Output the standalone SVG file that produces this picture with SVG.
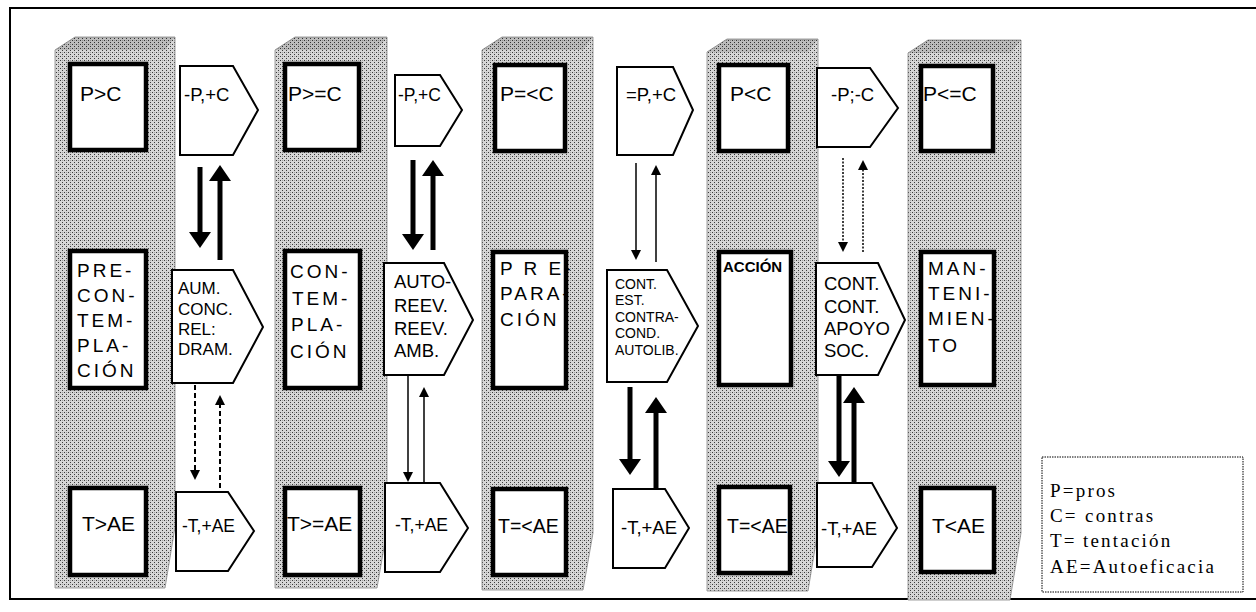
<svg xmlns="http://www.w3.org/2000/svg" width="1256" height="612" viewBox="0 0 1256 612">
<defs>
<pattern id="stip" width="4" height="4" patternUnits="userSpaceOnUse">
<rect width="4" height="4" fill="#d6d6d6"/>
<rect x="0" y="0" width="1" height="1" fill="#3a3a3a"/>
<rect x="2" y="2" width="1" height="1" fill="#3a3a3a"/>
<rect x="2" y="0" width="1" height="1" fill="#a0a0a0"/>
</pattern>
<marker id="hThick" viewBox="0 -11 16 22" markerWidth="16" markerHeight="22" refX="0" refY="0" orient="auto" markerUnits="userSpaceOnUse"><path d="M0,-11 L16,0 L0,11 Z" fill="#000"/></marker>
<marker id="hThin" viewBox="0 -5 10 10" markerWidth="10" markerHeight="10" refX="0" refY="0" orient="auto" markerUnits="userSpaceOnUse"><path d="M0,-5 L10,0 L0,5 Z" fill="#000"/></marker>
</defs>
<style>
.col{fill:url(#stip);stroke:#888;stroke-width:0.8}
.topf{fill:#000;fill-opacity:0.12}
.stage{fill:#fff;stroke:#000;stroke-width:4.5}
.pent{fill:#fff;stroke:#000;stroke-width:2;stroke-linejoin:miter}
.t{font-family:"Liberation Sans",Arial,sans-serif;fill:#000}
.s21{font-size:21px}
.s19{font-size:19.5px}
.s18{font-size:18.5px}
.s17{font-size:17.5px}
.s16{font-size:17px}
.s14{font-size:14px}
.sp{font-size:19px;letter-spacing:3px}
.b{font-weight:bold;font-size:15px}
.leg{font-family:"Liberation Serif","Times New Roman",serif;font-size:19px;letter-spacing:2.2px;fill:#000}
.thick{stroke:#000;stroke-width:5;fill:none}
.thin{stroke:#000;stroke-width:1.5;fill:none}
.dash{stroke:#000;stroke-width:2;fill:none;stroke-dasharray:5 3}
.dot{stroke:#000;stroke-width:1.5;fill:none;stroke-dasharray:2 1.5}
</style>
<rect x="10" y="8" width="1260" height="591" fill="#fff" stroke="#000" stroke-width="2"/>

<g id="columns">
<polygon class="col" points="55,50 75,37 175,37 175,527 165,588 55,588"/>
<polygon class="topf" points="55,50 75,37 175,37 165,50"/>
<polygon class="col" points="275,50 295,37 387,37 387,530 377,588 275,588"/>
<polygon class="topf" points="275,50 295,37 387,37 377,50"/>
<polygon class="col" points="482,50 502,37 593,37 593,533 583,590 482,590"/>
<polygon class="topf" points="482,50 502,37 593,37 583,50"/>
<polygon class="col" points="707,52 727,39 818,39 818,530 808,591 707,591"/>
<polygon class="topf" points="707,52 727,39 818,39 808,52"/>
<polygon class="col" points="908,53 928,40 1021,40 1021,533 1010,600 908,600"/>
<polygon class="topf" points="908,53 928,40 1021,40 1011,53"/>
</g>

<g id="connectors">
<line class="thick" x1="200" y1="167" x2="200" y2="232" marker-end="url(#hThick)"/>
<line class="thick" x1="220" y1="260" x2="220" y2="181" marker-end="url(#hThick)"/>
<line class="dash" x1="195" y1="385" x2="195" y2="470" marker-end="url(#hThin)"/>
<line class="dash" x1="220" y1="488" x2="220" y2="405" marker-end="url(#hThin)"/>
<line class="thick" x1="413" y1="160" x2="413" y2="234" marker-end="url(#hThick)"/>
<line class="thick" x1="433" y1="250" x2="433" y2="176" marker-end="url(#hThick)"/>
<line class="thin" x1="408" y1="376" x2="408" y2="472" marker-end="url(#hThin)"/>
<line class="thin" x1="424" y1="483" x2="424" y2="397" marker-end="url(#hThin)"/>
<line class="thin" x1="636" y1="163" x2="636" y2="250" marker-end="url(#hThin)"/>
<line class="thin" x1="656" y1="262" x2="656" y2="175" marker-end="url(#hThin)"/>
<line class="thick" x1="630" y1="387" x2="630" y2="459" marker-end="url(#hThick)"/>
<line class="thick" x1="656" y1="489" x2="656" y2="413" marker-end="url(#hThick)"/>
<line class="dot" x1="843" y1="158" x2="843" y2="242" marker-end="url(#hThin)"/>
<line class="dot" x1="863" y1="252" x2="863" y2="170" marker-end="url(#hThin)"/>
<line class="thick" x1="839" y1="376" x2="839" y2="461" marker-end="url(#hThick)"/>
<line class="thick" x1="854" y1="483" x2="854" y2="403" marker-end="url(#hThick)"/>
</g>

<g id="stage1">
<rect class="stage" x="70" y="64" width="76" height="86"/>
<text class="t s21" x="80" y="101">P&gt;C</text>
<rect class="stage" x="70" y="251" width="76" height="137"/>
<text class="t sp" x="77" y="277">PRE-</text>
<text class="t sp" x="77" y="302">CON-</text>
<text class="t sp" x="77" y="327">TEM-</text>
<text class="t sp" x="77" y="352">PLA-</text>
<text class="t sp" x="77" y="377" letter-spacing="2">CIÓN</text>
<rect class="stage" x="70" y="488" width="76" height="87"/>
<text class="t s21" x="82" y="531">T&gt;AE</text>
</g>

<g id="stage2">
<rect class="stage" x="285" y="64" width="74" height="86"/>
<text class="t s21" x="288" y="101">P&gt;=C</text>
<rect class="stage" x="285" y="251" width="75" height="137"/>
<text class="t sp" x="290" y="278">CON-</text>
<text class="t sp" x="292" y="305">TEM-</text>
<text class="t sp" x="291" y="331">PLA-</text>
<text class="t sp" x="290" y="358" letter-spacing="2">CIÓN</text>
<rect class="stage" x="285" y="488" width="75" height="87"/>
<text class="t s21" x="287" y="531">T&gt;=AE</text>
</g>

<g id="stage3">
<rect class="stage" x="495" y="65" width="70" height="86"/>
<text class="t s21" x="500" y="101">P=&lt;C</text>
<rect class="stage" x="493" y="252" width="73" height="136"/>
<text class="t sp" x="500" y="275" letter-spacing="1.8">P R E-</text>
<text class="t sp" x="500" y="300" letter-spacing="1.5">PARA-</text>
<text class="t sp" x="500" y="326" letter-spacing="1.8">CIÓN</text>
<rect class="stage" x="493" y="489" width="73" height="86"/>
<text class="t s19" x="498" y="533">T=&lt;AE</text>
</g>

<g id="stage4">
<rect class="stage" x="719" y="65" width="69" height="86"/>
<text class="t s21" x="730" y="101">P&lt;C</text>
<rect class="stage" x="719" y="252" width="72" height="133"/>
<text class="t b" x="723" y="272">ACCIÓN</text>
<rect class="stage" x="719" y="487" width="71" height="86"/>
<text class="t s19" x="727" y="533">T=&lt;AE</text>
</g>

<g id="stage5">
<rect class="stage" x="921" y="66" width="72" height="85"/>
<text class="t s21" x="923" y="101">P&lt;=C</text>
<rect class="stage" x="921" y="252" width="73" height="133"/>
<text class="t sp" x="928" y="275">MAN-</text>
<text class="t sp" x="928" y="300" letter-spacing="2.2">TENI-</text>
<text class="t sp" x="928" y="325" letter-spacing="1.5">MIEN-</text>
<text class="t sp" x="928" y="352" letter-spacing="1.5">TO</text>
<rect class="stage" x="921" y="488" width="73" height="84"/>
<text class="t s21" x="932" y="533">T&lt;AE</text>
</g>

<g id="process1">
<polygon class="pent" points="180,66 233,66 258,110 233,155 180,155"/>
<text class="t s18" x="184" y="101">-P,+C</text>
<polygon class="pent" points="172,270 233,270 263,327 233,383 172,383"/>
<text class="t s16" x="178" y="294">AUM.</text>
<text class="t s16" x="178" y="315">CONC.</text>
<text class="t s16" x="178" y="335">REL:</text>
<text class="t s16" x="178" y="355">DRAM.</text>
<polygon class="pent" points="176,492 228,492 254,531 228,571 176,571"/>
<text class="t s17" x="182" y="532">-T,+AE</text>
</g>

<g id="process2">
<polygon class="pent" points="395,75 440,75 462,110 440,146 395,146"/>
<text class="t s17" x="398" y="101">-P,+C</text>
<polygon class="pent" points="384,263 444,263 473,320 444,375 384,375"/>
<text class="t s18" x="394" y="288">AUTO-</text>
<text class="t s18" x="394" y="312">REEV.</text>
<text class="t s18" x="394" y="335">REEV.</text>
<text class="t s18" x="394" y="357">AMB.</text>
<polygon class="pent" points="385,483 440,483 468,528 440,572 385,572"/>
<text class="t s17" x="395" y="531">-T,+AE</text>
</g>

<g id="process3">
<polygon class="pent" points="617,67 673,67 693,110 673,155 617,155"/>
<text class="t s18" x="626" y="101">=P,+C</text>
<polygon class="pent" points="607,270 667,270 698,326 667,382 607,382"/>
<text class="t s14" x="615" y="289">CONT.</text>
<text class="t s14" x="615" y="305">EST.</text>
<text class="t s14" x="615" y="321.5">CONTRA-</text>
<text class="t s14" x="615" y="338">COND.</text>
<text class="t s14" x="615" y="355">AUTOLIB.</text>
<polygon class="pent" points="613,489 665,489 689,528 665,568 613,568"/>
<text class="t s18" x="621" y="534">-T,+AE</text>
</g>

<g id="process4">
<polygon class="pent" points="817,68 870,68 898,108 870,147 817,147"/>
<text class="t s18" x="831" y="101">-P;-C</text>
<polygon class="pent" points="816,263 878,263 905,320 878,375 816,375"/>
<text class="t s18" x="824" y="290">CONT.</text>
<text class="t s18" x="824" y="313">CONT.</text>
<text class="t s18" x="824" y="335">APOYO</text>
<text class="t s18" x="824" y="357">SOC.</text>
<polygon class="pent" points="817,483 872,483 897,528 872,567 817,567"/>
<text class="t s18" x="821" y="535">-T,+AE</text>
</g>

<g id="legend">
<rect x="1042" y="457" width="201" height="135" fill="#fff" stroke="#000" stroke-width="1" stroke-dasharray="1.5 1"/>
<text class="leg" x="1050" y="497">P=pros</text>
<text class="leg" x="1050" y="522">C=<tspan x="1085">contras</tspan></text>
<text class="leg" x="1050" y="547">T=<tspan x="1083">tentación</tspan></text>
<text class="leg" x="1050" y="573">AE=Autoeficacia</text>
</g>
</svg>
